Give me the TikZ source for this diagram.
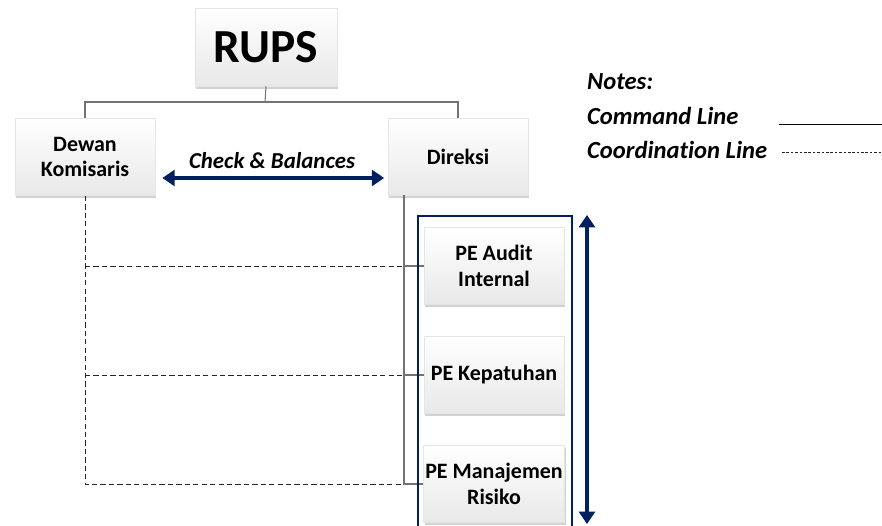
\documentclass[tikz,border=0pt]{standalone}
\usepackage{fontspec}
\setmainfont{Carlito}[RawFeature={-liga;-calt;-clig;-dlig}]
\usetikzlibrary{shadows,arrows.meta}
\definecolor{navy}{RGB}{0,32,96}

\begin{document}
\begin{tikzpicture}[x=0.02cm,y=-0.02cm,
    kasten/.style={draw=gray!20, top color=white, bottom color=gray!18,
      minimum width=2.8cm, minimum height=1.54cm, align=center, inner xsep=1pt,
      font=\bfseries\fontsize{12.5}{14.5}\selectfont,
      drop shadow={shadow xshift=0.6pt, shadow yshift=-1.6pt, fill=gray!70}},
    befehl/.style={gray!90!black, line width=0.6pt},
    koord/.style={black!85, line width=0.5pt, dash pattern=on 3pt off 1.8pt},
    pfeil/.style={navy, line width=2pt, {Triangle[length=7pt,width=9pt]}-{Triangle[length=7pt,width=9pt]}},
    notiz/.style={anchor=west, font=\bfseries\itshape\fontsize{14}{16}\selectfont}]
  \useasboundingbox (0,0) rectangle (882,526);

  % Kaesten
  \node[kasten, minimum width=2.84cm, minimum height=1.56cm,
        font=\bfseries\fontsize{27}{30}\selectfont] (rups) at (266,47) {RUPS};
  \node[kasten] (dewan) at (85,157) {Dewan\\Komisaris};
  \node[kasten] (direksi) at (458,157) {Direksi};
  \node[kasten] (audit) at (494,266) {PE Audit\\Internal};
  \node[kasten] (patuh) at (494,375) {PE Kepatuhan};
  \node[kasten] (risiko) at (494,484) {PE Manajemen\\Risiko};

  % Hilfspunkte
  \coordinate (oben) at (265,102);
  \coordinate (dirfuss) at (404,195);

  % Command Lines
  \draw[befehl] (rups.south) -- (oben);
  \draw[befehl] (dewan.north) |- (oben) -| (direksi.north);
  \draw[befehl] (dirfuss) |- (risiko.west);
  \draw[befehl] (dirfuss |- audit.west) -- (audit.west);
  \draw[befehl] (dirfuss |- patuh.west) -- (patuh.west);

  % Coordination Lines
  \draw[koord] (dewan.south) |- (dirfuss |- risiko.west);
  \draw[koord] (dewan.south |- audit.west) -- (dirfuss |- audit.west);
  \draw[koord] (dewan.south |- patuh.west) -- (dirfuss |- patuh.west);

  % Check & Balances
  \draw[pfeil, shorten <=4pt, shorten >=2pt] (dewan.east |- 0,178) -- (direksi.west |- 0,178);
  \node[font=\bfseries\itshape\fontsize{13}{15}\selectfont] (cb) at (272,161) {Check \& Balances};

  % Rahmen um PE
  \draw[navy, line width=1.1pt] (418,540) |- (572,216) -- (572,540);
  \coordinate (pfoben) at (587,215);
  \coordinate (pfunten) at (587,524);
  \draw[pfeil] (pfoben) -- (pfunten);

  % Notes
  \node[notiz] (notes) at (581,82) {Notes:};
  \node[notiz] (befehltxt) at (581,116) {Command Line};
  \node[notiz] (koordtxt) at (581,150) {Coordination Line};
  \coordinate (bef1) at (779,124);
  \coordinate (bef2) at (882,124);
  \coordinate (koo1) at (782,152);
  \coordinate (koo2) at (882,152);
  \draw[black, line width=0.5pt] (bef1) -- (bef2);
  \draw[koord, dash pattern=on 1.5pt off 1pt] (koo1) -- (koo2);
\end{tikzpicture}
\end{document}
